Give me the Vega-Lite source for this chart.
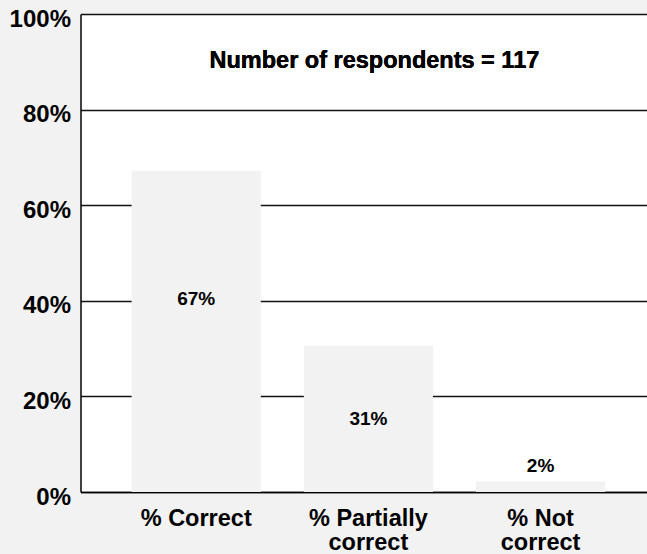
{
  "$schema": "https://vega.github.io/schema/vega-lite/v6.json",
  "width": 647,
  "height": 554,
  "autosize": {"type": "fit", "contains": "padding"},
  "padding": {"left": 8.5, "top": 7, "right": 0, "bottom": 0},
  "background": "#f2f2f2",
  "config": {
    "view": {"fill": "white", "stroke": null},
    "font": "Liberation Sans"
  },
  "data": {
    "values": [
      {"category": "% Correct", "value": 0.672},
      {"category": "% Partially|correct", "value": 0.306},
      {"category": "% Not|correct", "value": 0.022}
    ]
  },
  "layer": [
    {
      "mark": {"type": "bar", "color": "#f2f2f2"},
      "encoding": {
        "x": {
          "field": "category",
          "type": "nominal",
          "sort": null,
          "scale": {"paddingInner": 0.25, "paddingOuter": 0.27, "align": 0.55},
          "axis": {
            "title": null,
            "labelAngle": 0,
            "labelExpr": "split(datum.label, '|')",
            "labelFontSize": 23.5,
            "labelFontWeight": "bold",
            "labelColor": "#000000",
            "labelPadding": 14,
            "labelLineHeight": 24,
            "labelBaseline": "top",
            "ticks": false,
            "domain": true,
            "domainColor": "#000000",
            "domainWidth": 1.5,
            "grid": false
          }
        },
        "y": {
          "field": "value",
          "type": "quantitative",
          "scale": {"domain": [0, 1]},
          "axis": {
            "title": null,
            "values": [0, 0.2, 0.4, 0.6, 0.8, 1],
            "format": ".0%",
            "labelFontSize": 24,
            "labelFontWeight": "bold",
            "labelColor": "#000000",
            "labelPadding": 10,
            "labelOffset": 5,
            "ticks": false,
            "domain": true,
            "domainColor": "#000000",
            "domainWidth": 1.5,
            "grid": true,
            "gridColor": "#111111",
            "gridWidth": 1.4
          }
        }
      }
    },
    {
      "transform": [
        {"calculate": "datum.value > 0.5 ? datum.value * 0.6 : (datum.value < 0.05 ? datum.value + 0.032 : datum.value / 2)", "as": "labelPos"}
      ],
      "mark": {"type": "text", "fontSize": 19, "fontWeight": "bold", "color": "#000000"},
      "encoding": {
        "x": {"field": "category", "type": "nominal", "sort": null},
        "y": {"field": "labelPos", "type": "quantitative"},
        "text": {"field": "value", "type": "quantitative", "format": ".0%"}
      }
    },
    {
      "mark": {"type": "text", "fontSize": 23.5, "fontWeight": "bold", "color": "#000000", "dx": 6},
      "encoding": {
        "x": {"datum": "% Partially|correct"},
        "y": {"datum": 0.902},
        "text": {"value": "Number of respondents = 117"}
      }
    }
  ]
}
